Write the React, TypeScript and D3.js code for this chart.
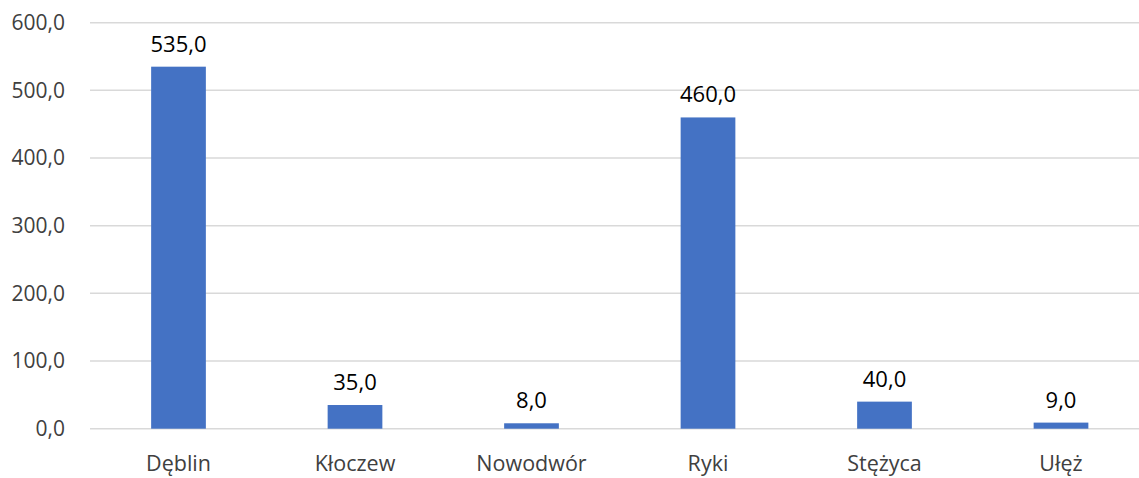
import React from "react";
import * as d3 from "d3";

const categories = ["Dęblin", "Kłoczew", "Nowodwór", "Ryki", "Stężyca", "Ułęż"];
const values = [535, 35, 8, 460, 40, 9];
const yTicks = [0, 100, 200, 300, 400, 500, 600];

const W = 1139;
const H = 478;
const FONT = "'Open Sans', 'Noto Sans', sans-serif";

const fmt = (v: number) => v.toFixed(1).replace(".", ",");

export default function App() {
  const x = d3
    .scaleBand<string>()
    .domain(categories)
    .range([90.25, 1149.25])
    .paddingInner(0.69)
    .paddingOuter(0.345);
  const y = d3.scaleLinear().domain([0, 600]).range([428.7, 22.7]);

  return (
    <svg
      width={W}
      height={H}
      style={{ position: "absolute", left: 0, top: 0, background: "#fff" }}
      fontFamily={FONT}
    >
      {yTicks.map((t) => (
        <g key={t}>
          <line x1={90} x2={W} y1={y(t)} y2={y(t)} stroke="#d9d9d9" strokeWidth={1.5} />
          <text
            x={65}
            y={y(t)}
            dy="0.35em"
            textAnchor="end"
            fontSize={21}
            fill="#404040"
          >
            {fmt(t)}
          </text>
        </g>
      ))}
      {categories.map((c, i) => {
        const bx = x(c)!;
        const bw = x.bandwidth();
        return (
          <g key={c}>
            <rect x={bx} y={y(values[i])} width={bw} height={y(0) - y(values[i])} fill="#4472C4" />
            <text
              x={bx + bw / 2}
              y={y(values[i]) - 15}
              textAnchor="middle"
              fontSize={22}
              fill="#000"
            >
              {fmt(values[i])}
            </text>
            <text
              x={bx + bw / 2}
              y={y(0) + 42}
              textAnchor="middle"
              fontSize={21.5}
              fill="#404040"
            >
              {c}
            </text>
          </g>
        );
      })}
    </svg>
  );
}
